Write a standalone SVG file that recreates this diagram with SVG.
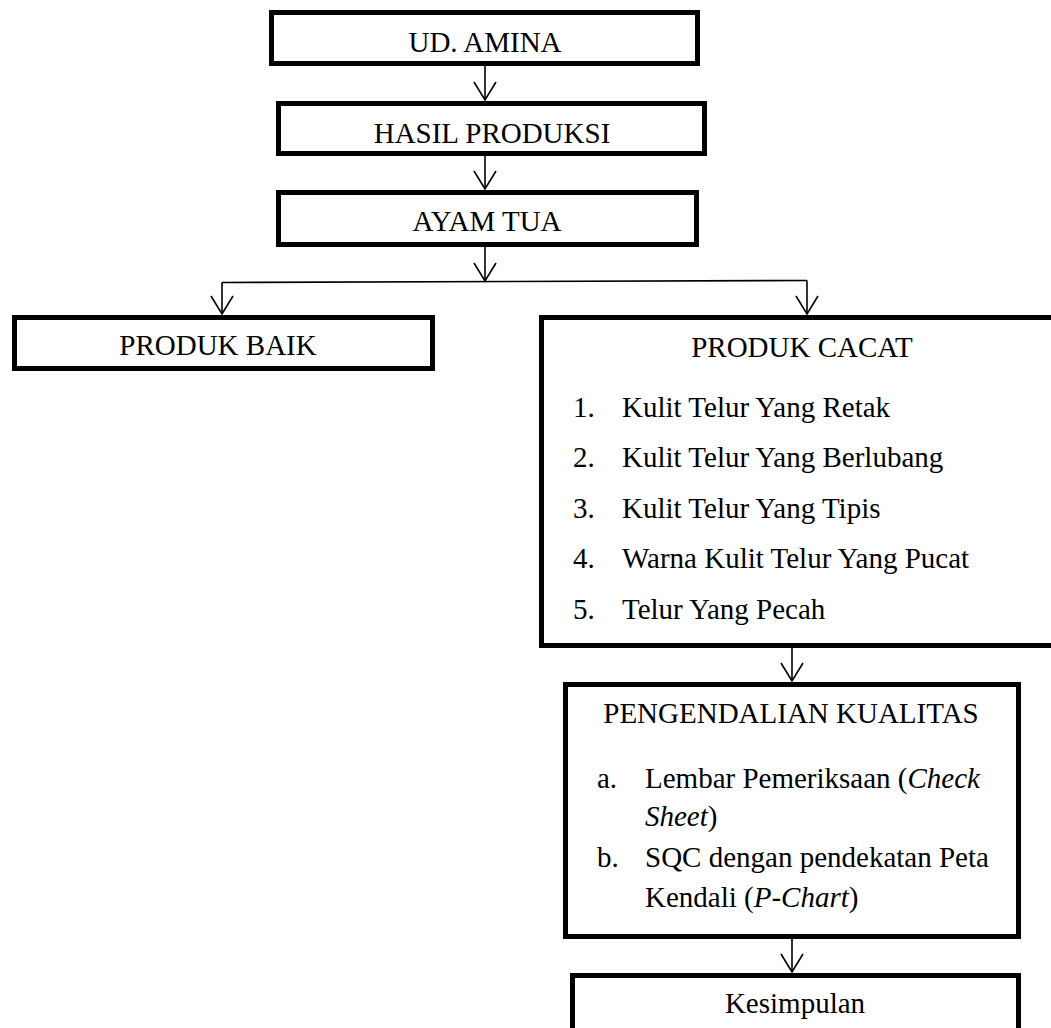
<svg xmlns="http://www.w3.org/2000/svg" width="1051" height="1028" viewBox="0 0 1051 1028">
<style>
.box{fill:#fff;stroke:#000;stroke-width:5}
.t{font-family:"Liberation Serif","Times New Roman",serif;font-size:29px;fill:#000}
.c{text-anchor:middle}
.conn{fill:none;stroke:#000;stroke-width:1.6}
</style>
<defs>
<marker id="arr" markerUnits="userSpaceOnUse" markerWidth="24" markerHeight="24" viewBox="-20 -12 24 24" refX="0" refY="0" orient="auto" overflow="visible">
<path d="M-18,-11 L0,0 L-18,11" fill="none" stroke="#000" stroke-width="1.6"/>
</marker>
</defs>
<rect width="1051" height="1028" fill="#fff"/>
<g id="connectors" class="conn">
<line x1="485" y1="66" x2="485" y2="100" marker-end="url(#arr)"/>
<line x1="485" y1="156" x2="485" y2="189" marker-end="url(#arr)"/>
<line x1="485" y1="247" x2="485" y2="281" marker-end="url(#arr)"/>
<polyline points="222,282.5 807,280.5"/>
<line x1="222" y1="282.5" x2="222" y2="314" marker-end="url(#arr)"/>
<line x1="807" y1="280.5" x2="807" y2="314" marker-end="url(#arr)"/>
<line x1="792" y1="648" x2="792" y2="681" marker-end="url(#arr)"/>
<line x1="792" y1="939" x2="792" y2="972" marker-end="url(#arr)"/>
</g>
<g id="ud-amina">
<rect class="box" x="271.5" y="12.5" width="426" height="51"/>
<text class="t c" x="485" y="52">UD. AMINA</text>
</g>
<g id="hasil-produksi">
<rect class="box" x="278.5" y="103.5" width="426" height="50"/>
<text class="t c" x="492" y="143">HASIL PRODUKSI</text>
</g>
<g id="ayam-tua">
<rect class="box" x="278.5" y="192.5" width="418" height="52"/>
<text class="t c" x="487" y="231">AYAM TUA</text>
</g>
<g id="produk-baik">
<rect class="box" x="14.5" y="317.5" width="418" height="51"/>
<text class="t c" x="218" y="355">PRODUK BAIK</text>
</g>
<g id="produk-cacat">
<rect class="box" x="541.5" y="317.5" width="520" height="328"/>
<text class="t c" x="802" y="357">PRODUK CACAT</text>
<text class="t" x="573" y="417">1.</text><text class="t" x="622" y="417">Kulit Telur Yang Retak</text>
<text class="t" x="573" y="467">2.</text><text class="t" x="622" y="467">Kulit Telur Yang Berlubang</text>
<text class="t" x="573" y="518">3.</text><text class="t" x="622" y="518">Kulit Telur Yang Tipis</text>
<text class="t" x="573" y="568">4.</text><text class="t" x="622" y="568">Warna Kulit Telur Yang Pucat</text>
<text class="t" x="573" y="619">5.</text><text class="t" x="622" y="619">Telur Yang Pecah</text>
</g>
<g id="pengendalian-kualitas">
<rect class="box" x="565.5" y="684.5" width="453" height="252"/>
<text class="t c" x="791" y="723">PENGENDALIAN KUALITAS</text>
<text class="t" x="597" y="788">a.</text><text class="t" x="645" y="788">Lembar Pemeriksaan (<tspan font-style="italic">Check</tspan></text>
<text class="t" x="645" y="826"><tspan font-style="italic">Sheet</tspan>)</text>
<text class="t" x="597" y="867">b.</text><text class="t" x="645" y="867">SQC dengan pendekatan Peta</text>
<text class="t" x="645" y="907">Kendali (<tspan font-style="italic">P-Chart</tspan>)</text>
</g>
<g id="kesimpulan">
<rect class="box" x="572.5" y="975.5" width="446" height="70"/>
<text class="t c" x="795" y="1013">Kesimpulan</text>
</g>
</svg>
